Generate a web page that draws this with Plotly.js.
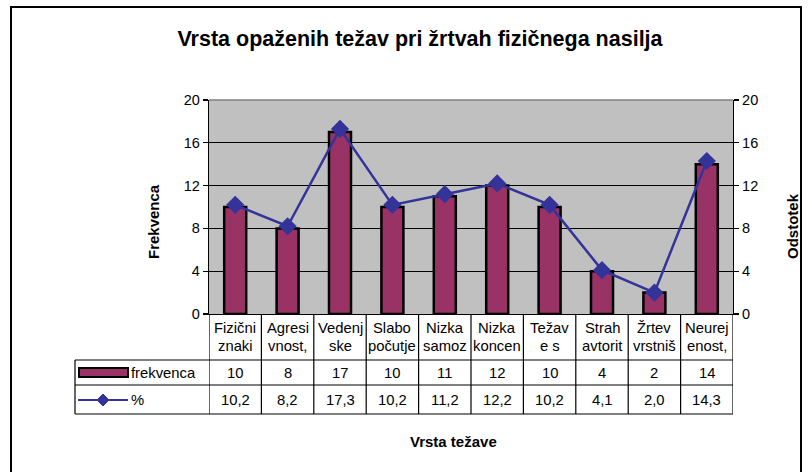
<!DOCTYPE html>
<html>
<head>
<meta charset="utf-8">
<script src="https://cdn.plot.ly/plotly-3.0.1.min.js"></script>
<style>html,body{margin:0;padding:0;background:#fff;}#chart{width:812px;height:472px;}</style>
</head>
<body>
<div id="chart"></div>
<script>
// Data
const categories = ["Fizični znaki", "Agresivnost,", "Vedenjske", "Slabo počutje", "Nizka samoz", "Nizka koncen", "Težave s", "Strah avtorit", "Žrtev vrstniš", "Neurejenost,"];
const headerLine1 = ["Fizični", "Agresi", "Vedenj", "Slabo", "Nizka", "Nizka", "Težav", "Strah", "Žrtev", "Neurej"];
const headerLine2 = ["znaki", "vnost,", "ske", "počutje", "samoz", "koncen", "e s", "avtorit", "vrstniš", "enost,"];
const frekvenca = [10, 8, 17, 10, 11, 12, 10, 4, 2, 14];
const odstotek = [10.2, 8.2, 17.3, 10.2, 11.2, 12.2, 10.2, 4.1, 2.0, 14.3];
const yTicks = [0, 4, 8, 12, 16, 20];

// geometry helpers (plot area px)
const L = 209, R = 733, T = 100, B = 314;
const W = R - L, H = B - T;
const px = v => (v - L) / W;
const py = v => (B - v) / H;

const FONT = "Liberation Sans, Arial, sans-serif";
const idx = categories.map((c, i) => i);

const traces = [
  {
    type: "bar", name: "frekvenca", x: idx, y: frekvenca, width: 0.42,
    marker: {color: "#993366", line: {color: "#000000", width: 2.5}},
    hoverinfo: "skip"
  },
  {
    type: "scatter", mode: "lines+markers", name: "%", x: idx, y: odstotek, yaxis: "y2",
    line: {color: "#333399", width: 2.5},
    marker: {symbol: "diamond", size: 14, color: "#333399"},
    hoverinfo: "skip"
  }
];

const shapes = [];
const annotations = [];
const tableLeft = px(75);
const rowTop = py(360), rowMid = py(385), rowBot = py(414);

// frame
shapes.push({type: "rect", xref: "paper", yref: "paper", x0: px(11), x1: px(801), y0: py(480), y1: py(7),
  line: {color: "#000", width: 2}, fillcolor: "rgba(0,0,0,0)", layer: "below"});
// plot area top border (gray)
shapes.push({type: "line", xref: "paper", yref: "paper", x0: 0, x1: 1, y0: 1, y1: 1, line: {color: "#808080", width: 1.5}});
// table horizontal lines
[rowTop, rowMid, rowBot].forEach(y => shapes.push({type: "line", xref: "paper", yref: "paper", x0: tableLeft, x1: 1, y0: y, y1: y, line: {color: "#000", width: 1.2}}));
// table vertical lines at category boundaries
for (let i = 0; i <= categories.length; i++) {
  shapes.push({type: "line", xref: "x", yref: "paper", x0: i - 0.5, x1: i - 0.5, y0: 0, y1: rowBot, line: {color: "#000", width: 1.2}});
}
shapes.push({type: "line", xref: "paper", yref: "paper", x0: tableLeft, x1: tableLeft, y0: rowTop, y1: rowBot, line: {color: "#000", width: 1.2}});
// legend keys
shapes.push({type: "rect", xref: "paper", yref: "paper", x0: px(79), x1: px(128), y0: py(377), y1: py(368),
  fillcolor: "#993366", line: {color: "#000", width: 2}});
shapes.push({type: "line", xref: "paper", yref: "paper", x0: px(78), x1: px(128), y0: py(400), y1: py(400), line: {color: "#333399", width: 2}});
{
  const cx = 103, cy = 400, r = 6;
  shapes.push({type: "path", xref: "paper", yref: "paper",
    path: `M ${px(cx - r)} ${py(cy)} L ${px(cx)} ${py(cy - r)} L ${px(cx + r)} ${py(cy)} L ${px(cx)} ${py(cy + r)} Z`,
    fillcolor: "#333399", line: {color: "#333399", width: 1}});
}

const tf = {family: FONT, size: 14.8, color: "#000"};
// header labels
idx.forEach(i => {
  annotations.push({xref: "x", yref: "paper", x: i, y: py(328), text: headerLine1[i], showarrow: false, font: tf, xanchor: "center", yanchor: "middle"});
  annotations.push({xref: "x", yref: "paper", x: i, y: py(346), text: headerLine2[i], showarrow: false, font: tf, xanchor: "center", yanchor: "middle"});
  annotations.push({xref: "x", yref: "paper", x: i, y: py(372.5), text: String(frekvenca[i]), showarrow: false, font: tf, xanchor: "center", yanchor: "middle"});
  annotations.push({xref: "x", yref: "paper", x: i, y: py(399.5), text: odstotek[i].toFixed(1).replace(".", ","), showarrow: false, font: tf, xanchor: "center", yanchor: "middle"});
});
annotations.push({xref: "paper", yref: "paper", x: px(129), y: py(372.5), text: "frekvenca", showarrow: false, font: tf, xanchor: "left", yanchor: "middle"});
annotations.push({xref: "paper", yref: "paper", x: px(129), y: py(400), text: "%", showarrow: false, font: tf, xanchor: "left", yanchor: "middle"});
// axis titles
const bf = {family: FONT, size: 15, color: "#000"};
annotations.push({xref: "paper", yref: "paper", x: px(153), y: py(222), text: "<b>Frekvenca</b>", textangle: -90, showarrow: false, font: bf, xanchor: "center", yanchor: "middle"});
annotations.push({xref: "paper", yref: "paper", x: px(792), y: py(226), text: "<b>Odstotek</b>", textangle: -90, showarrow: false, font: bf, xanchor: "center", yanchor: "middle"});
annotations.push({xref: "paper", yref: "paper", x: px(453), y: py(441), text: "<b>Vrsta težave</b>", showarrow: false, font: bf, xanchor: "center", yanchor: "middle"});

const axisCommon = {
  range: [0, 20], tickvals: yTicks, ticktext: yTicks.map(String), ticks: "outside", ticklen: 5, tickwidth: 1.2, tickcolor: "#000",
  showline: true, linecolor: "#000", linewidth: 1.2, zeroline: false,
  tickfont: {family: FONT, size: 14.5, color: "#000"}, fixedrange: true
};

const layout = {
  width: 812, height: 472,
  margin: {l: L, r: 812 - R, t: T, b: 472 - B},
  paper_bgcolor: "#ffffff", plot_bgcolor: "#C0C0C0",
  showlegend: false,
  title: {text: "<b>Vrsta opaženih težav pri žrtvah fizičnega nasilja</b>", x: 420 / 812, xanchor: "center", y: 1 - 38 / 472, yanchor: "middle",
    font: {family: FONT, size: 21.5, color: "#000"}},
  xaxis: {type: "linear", range: [-0.5, categories.length - 0.5], showticklabels: false, ticks: "", showgrid: false, zeroline: false,
    showline: true, linecolor: "#000", linewidth: 1.2, fixedrange: true},
  yaxis: Object.assign({}, axisCommon, {showgrid: true, gridcolor: "#000", gridwidth: 1, side: "left"}),
  yaxis2: Object.assign({}, axisCommon, {overlaying: "y", side: "right", showgrid: false}),
  shapes: shapes,
  annotations: annotations
};

Plotly.newPlot("chart", traces, layout, {displayModeBar: false, staticPlot: true});
</script>
</body>
</html>
